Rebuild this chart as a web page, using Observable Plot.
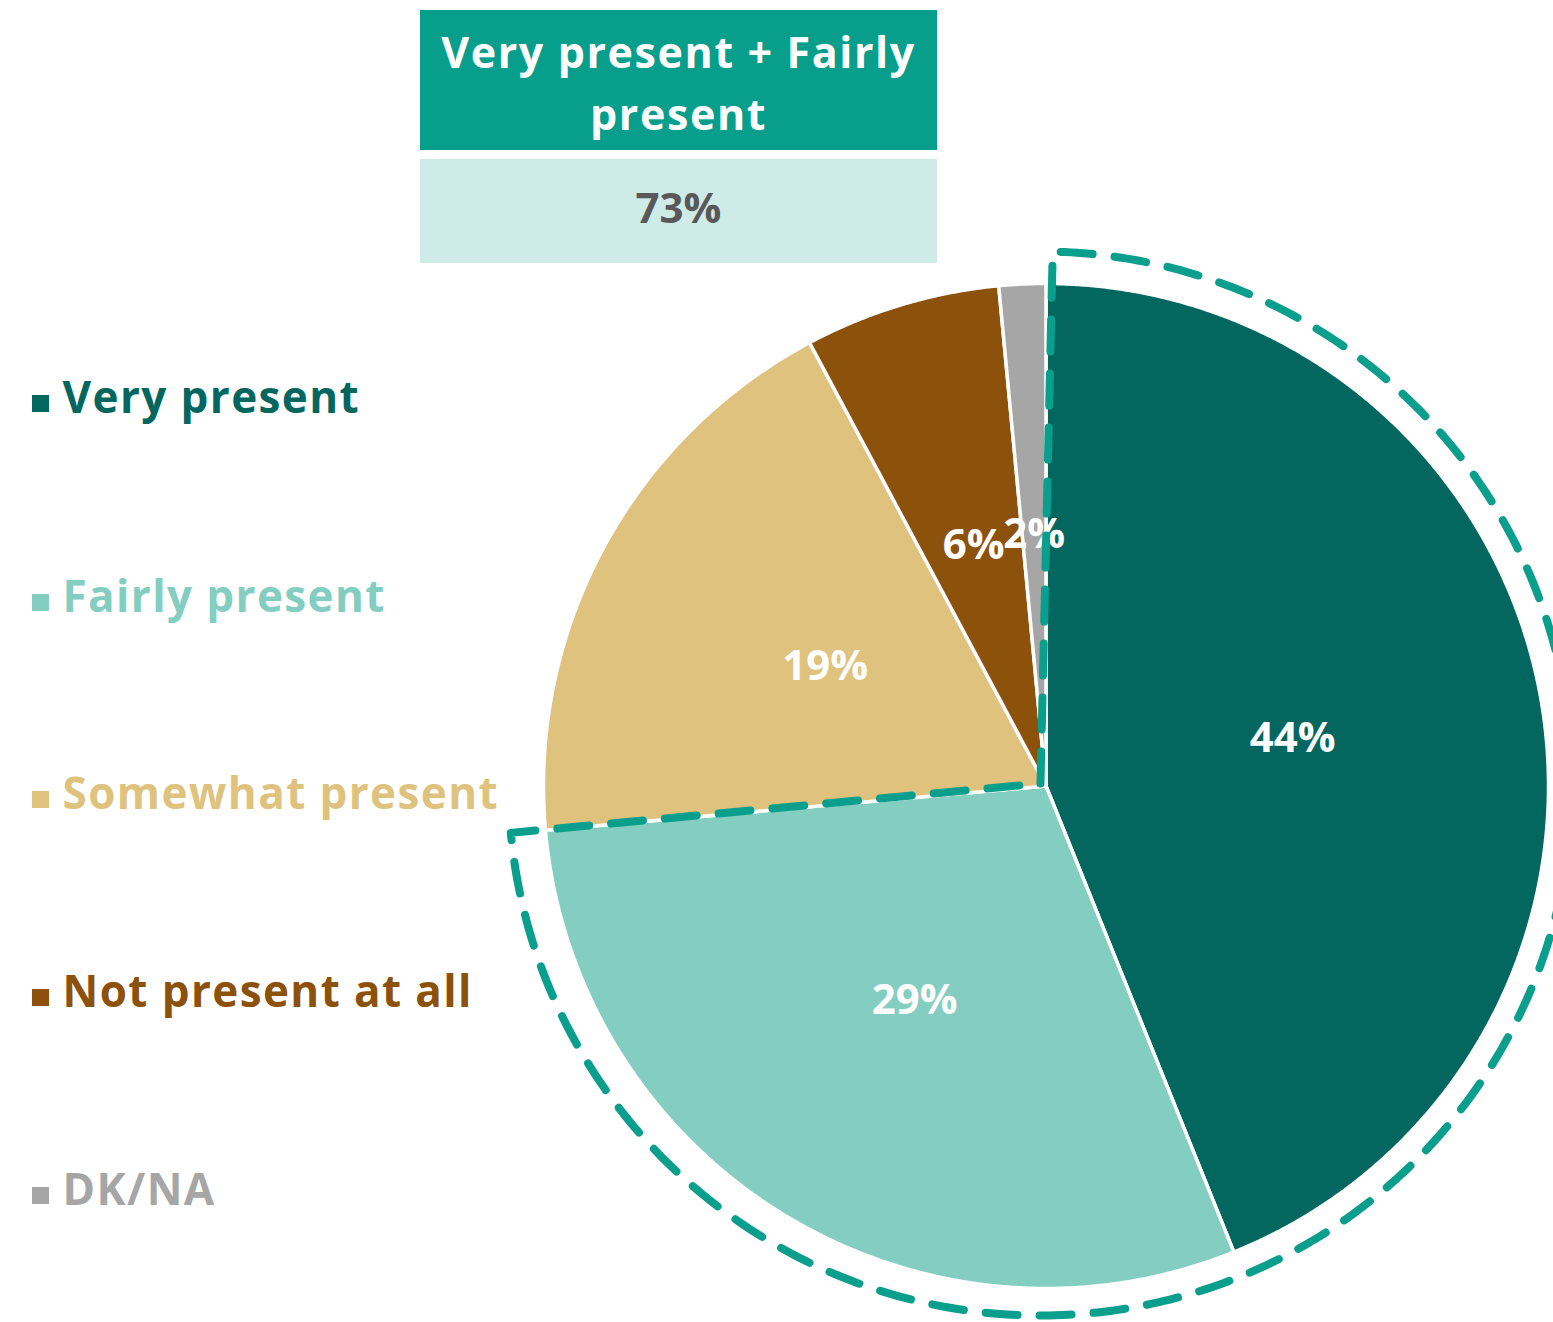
<!DOCTYPE html>
<html>
<head>
<meta charset="utf-8">
<script src="https://cdn.jsdelivr.net/npm/d3@7"></script>
<script src="https://cdn.jsdelivr.net/npm/@observablehq/plot@0.6"></script>
<style>
  html, body { margin: 0; padding: 0; background: #fff; }
  #chart svg { display: block; }
</style>
</head>
<body>
<div id="chart"></div>
<script>
// ---- data ----
const categories = ["Very present", "Fairly present", "Somewhat present", "Not present at all", "DK/NA"];
const values = [43.9, 29.7, 18.6, 6.3, 1.5];
const valueLabels = ["44%", "29%", "19%", "6%", "2%"];
const colors = ["#03665F", "#83CEC1", "#DFC27D", "#8C510A", "#A6A6A6"];
const combinedTitle = "Very present + Fairly\npresent";
const combinedValue = "73%";
const combinedCount = 2; // first two categories

// ---- layout ----
const W = 1553, H = 1322;
const cx = 1045.5, cy = 785.5, R = 502.5;
const font = "'Open Sans', 'DejaVu Sans', sans-serif";

const pie = d3.pie().sort(null).value(d => d)(values);

// slice polygons
const slicePts = [];
pie.forEach((p, i) => {
  const a0 = p.startAngle, a1 = p.endAngle;
  slicePts.push({k: categories[i], x: cx, y: cy});
  const n = Math.max(4, Math.ceil((a1 - a0) / 0.005));
  for (let j = 0; j <= n; j++) {
    const a = a0 + (a1 - a0) * j / n;
    slicePts.push({k: categories[i], x: cx + R * Math.sin(a), y: cy - R * Math.cos(a)});
  }
});

// slice labels at half radius
const labelData = pie.map((p, i) => {
  const a = (p.startAngle + p.endAngle) / 2;
  return {text: valueLabels[i], x: cx + 0.5 * R * Math.sin(a), y: cy - 0.5 * R * Math.cos(a)};
});

// dashed outline around combined group
const dcx = 1040, dcy = 783, dR = 532;
const groupEnd = pie[combinedCount - 1].endAngle;
const dStart = 0.023, dEnd = groupEnd - 0.005;
const dashPts = [{x: dcx, y: dcy}];
{
  const n = 400;
  for (let j = 0; j <= n; j++) {
    const a = dStart + (dEnd - dStart) * j / n;
    dashPts.push({x: dcx + dR * Math.sin(a), y: dcy - dR * Math.cos(a)});
  }
}
dashPts.push({x: dcx, y: dcy});

// legend
const legendY = [398, 597, 794, 992, 1190];
const legend = categories.map((c, i) => ({c, y: legendY[i]}));

const chart = Plot.plot({
  width: W,
  height: H,
  margin: 0,
  style: {fontFamily: font, background: "#fff"},
  x: {domain: [0, W], range: [0, W], axis: null},
  y: {domain: [0, H], range: [0, H], axis: null},
  color: {domain: categories, range: colors},
  marks: [
    // header boxes
    Plot.rect([{x1: 420, x2: 937, y1: 10, y2: 150}], {x1: "x1", x2: "x2", y1: "y1", y2: "y2", fill: "#079E8B"}),
    Plot.rect([{x1: 420, x2: 937, y1: 159, y2: 263}], {x1: "x1", x2: "x2", y1: "y1", y2: "y2", fill: "#CFEBE8"}),
    Plot.text([combinedTitle], {x: 678, y: 79, text: d => d, fill: "white", fontSize: 43, fontWeight: 700, lineHeight: 1.44, lineAnchor: "middle"}),
    Plot.text([combinedValue], {x: 678, y: 209, text: d => d, fill: "#595959", fontSize: 42, fontWeight: 700, lineAnchor: "middle"}),
    // pie slices
    Plot.line(slicePts, {x: "x", y: "y", z: "k", fill: "k", stroke: "white", strokeWidth: 3.5, curve: "linear-closed", strokeLinejoin: "round"}),
    // slice labels
    Plot.text(labelData, {x: "x", y: "y", text: "text", fill: "white", fontSize: 42, fontWeight: 700, lineAnchor: "middle"}),
    // dashed outline
    Plot.line(dashPts, {x: "x", y: "y", stroke: "#0A9E8C", strokeWidth: 8, strokeDasharray: "32,22", fill: "none", curve: "linear"}),
    // legend
    Plot.dot(legend, {x: 40, y: d => d.y + 5, symbol: "square", r: 9.6, fill: "c", stroke: null}),
    Plot.text(legend, {x: 62, y: "y", text: "c", fill: "c", textAnchor: "start", fontSize: 44, fontWeight: 700, lineAnchor: "middle"})
  ]
});
// widen tracking of header title and legend texts to match the reference face
const textGroups = chart.querySelectorAll('g[aria-label="text"]');
if (textGroups[0]) textGroups[0].style.letterSpacing = "1.6px";
if (textGroups[3]) textGroups[3].style.letterSpacing = "1.4px";
document.getElementById("chart").appendChild(chart);
</script>
</body>
</html>
